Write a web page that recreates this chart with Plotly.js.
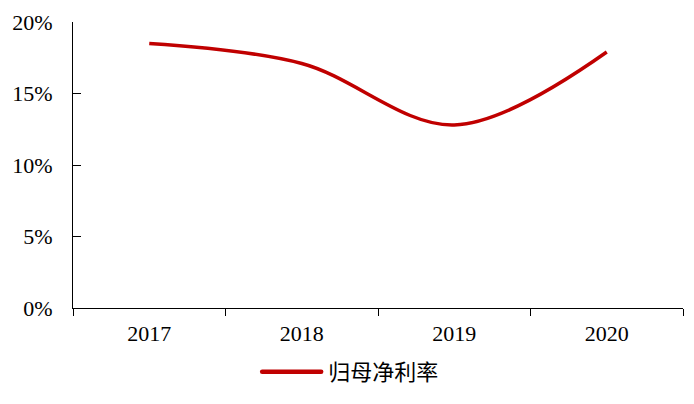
<!DOCTYPE html>
<html>
<head>
<meta charset="utf-8">
<script src="https://cdn.plot.ly/plotly-3.0.1.min.js"></script>
<style>
  html, body { margin: 0; padding: 0; background: #fff; }
  #chart { width: 694px; height: 404px; }
</style>
</head>
<body>
<div id="chart"></div>
<script>
// 年份 / 归母净利率
const years = ['2017', '2018', '2019', '2020'];
const netMargin = [0.185, 0.171, 0.128, 0.179];
const seriesName = '归母净利率';
const yTicks = [0, 0.05, 0.10, 0.15, 0.20];

const lineColor = '#C00000';
const tickFont = { family: 'Liberation Serif, Times New Roman, serif', size: 22, color: '#000' };

const data = [{
    x: years,
    y: netMargin,
    name: seriesName,
    type: 'scatter',
    mode: 'lines',
    line: { color: lineColor, width: 3.5, shape: 'spline', smoothing: 1 },
    hoverinfo: 'skip'
}];

const layout = {
    width: 694,
    height: 404,
    margin: { l: 73, r: 11, t: 22, b: 96 },
    paper_bgcolor: '#fff',
    plot_bgcolor: '#fff',
    showlegend: true,
    legend: {
        orientation: 'h',
        x: 0.456,
        xanchor: 'center',
        y: -0.224,
        yanchor: 'middle',
        font: { family: 'Noto Sans CJK SC, sans-serif', size: 22, color: '#000' },
        itemwidth: 60
    },
    xaxis: {
        type: 'category',
        range: [-0.5, years.length - 0.5],
        showline: true,
        linecolor: '#000',
        linewidth: 1,
        showgrid: false,
        zeroline: false,
        ticks: 'outside',
        tickson: 'boundaries',
        ticklen: 7,
        tickcolor: '#000',
        ticklabelstandoff: 6,
        tickfont: tickFont
    },
    yaxis: {
        range: [0, 0.2],
        tickvals: yTicks,
        tickformat: '.0%',
        showline: true,
        linecolor: '#000',
        linewidth: 1,
        showgrid: false,
        zeroline: false,
        ticks: 'inside',
        ticklen: 8,
        tickcolor: '#000',
        ticklabelstandoff: 15,
        tickfont: tickFont
    }
};

Plotly.newPlot('chart', data, layout, { displayModeBar: false, staticPlot: true }).then(gd => {
    // longer, thicker legend sample like the original
    gd.querySelectorAll('.legend .legendlines path').forEach(p => {
        p.setAttribute('d', 'M4,0h59');
        p.style.strokeWidth = '4.5px';
        p.style.strokeLinecap = 'round';
    });
});
</script>
</body>
</html>
